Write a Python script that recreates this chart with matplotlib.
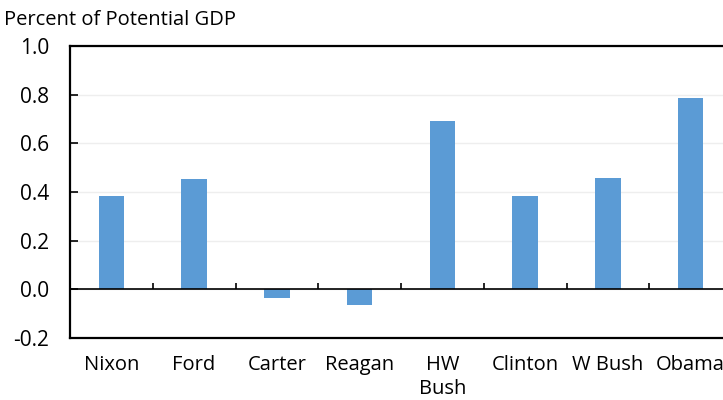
import matplotlib.pyplot as plt
import numpy as np

presidents = ["Nixon", "Ford", "Carter", "Reagan", "HW\nBush", "Clinton", "W Bush", "Obama"]
values = [0.383, 0.453, -0.035, -0.064, 0.693, 0.385, 0.456, 0.786]
yticks = [-0.2, 0.0, 0.2, 0.4, 0.6, 0.8, 1.0]

plt.rcParams['font.family'] = ['Open Sans', 'DejaVu Sans']

fig = plt.figure(figsize=(7.23, 4.0), dpi=100)
# right edge of the frame runs past the image, like the reference
ax = fig.add_axes([70/723, 62/400, 662/723, 292/400])

x = np.arange(len(presidents))
ax.bar(x, values, width=0.31, color='#5B9BD5', zorder=3)

ax.set_xlim(-0.5, len(presidents) - 0.5)
ax.set_ylim(-0.2, 1.0)
ax.set_yticks(yticks)
ax.set_yticklabels([f"{v:.1f}" for v in yticks])
ax.yaxis.grid(True, color='#EEEEEE', linewidth=1, zorder=0)

ax.set_xticks(x)
ax.set_xticklabels(presidents, fontsize=14.5, linespacing=1.3)
ax.tick_params(axis='x', length=0, pad=12)
ax.tick_params(axis='y', direction='in', length=6, width=1.2, pad=15, labelsize=15)

for s in ax.spines.values():
    s.set_linewidth(1.6)
    s.set_color('black')

# zero line with category divider ticks
ax.axhline(0, color='black', linewidth=1.2, zorder=4)
bounds = x[:-1] + 0.5
ax.vlines(bounds, 0, 0.024, color='black', linewidth=1.2, zorder=4)

fig.text(4/723, 1 - 10/400, "Percent of Potential GDP", fontsize=14.5, va='top', ha='left')

fig.savefig("out.png", dpi=100)
